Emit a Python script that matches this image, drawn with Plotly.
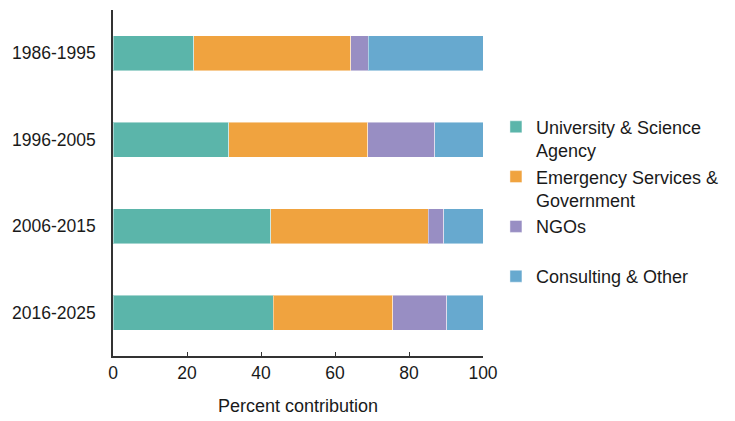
import plotly.graph_objects as go

# ── Data ──────────────────────────────────────────────────
periods = ["1986-1995", "1996-2005", "2006-2015", "2016-2025"]
university = [21.8, 31.3, 42.7, 43.3]
emergency = [42.5, 37.6, 42.5, 32.3]
ngos = [4.7, 18.1, 4.2, 14.6]
consulting = [31.0, 13.0, 10.6, 9.8]

series = [
    ("University & Science<br>Agency", university, "#5bb5aa"),
    ("Emergency Services &<br>Government", emergency, "#f0a33f"),
    ("NGOs<br> ", ngos, "#988ec3"),
    ("Consulting & Other", consulting, "#67a9cf"),
]

FONT = "Liberation Sans, Arial, sans-serif"

fig = go.Figure()
for name, vals, color in series:
    fig.add_trace(go.Bar(
        y=periods, x=vals, name=name, orientation="h",
        marker=dict(color=color, line=dict(color="rgba(255,255,255,0.45)", width=1)),
    ))

# page body has an 8px margin, so the figure is sized to fit inside the window
fig.update_layout(
    barmode="stack",
    bargap=0.6,
    width=727, height=413,
    margin=dict(l=105, r=252, t=2, b=65),
    plot_bgcolor="white", paper_bgcolor="white",
    font=dict(family=FONT, size=17.5, color="#1a1a1a"),
    legend=dict(
        x=1.035, y=0.715, xanchor="left", yanchor="top",
        traceorder="normal", valign="top",
        font=dict(size=18), tracegroupgap=0,
    ),
    xaxis=dict(
        range=[0, 100], dtick=20, showgrid=False, zeroline=False,
        showline=True, linecolor="#333333", linewidth=1.5,
        ticks="inside", ticklen=4, tickcolor="#333333",
        title=dict(text="Percent contribution", font=dict(size=18), standoff=18),
    ),
    yaxis=dict(
        categoryorder="array", categoryarray=periods, autorange="reversed",
        showgrid=False, zeroline=False,
        showline=True, linecolor="#333333", linewidth=1.5,
        ticks="", ticklabelstandoff=12,
    ),
)

fig.write_html("out.html")
